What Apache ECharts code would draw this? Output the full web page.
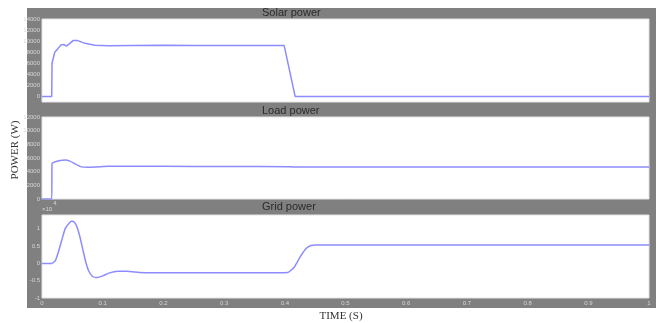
<!DOCTYPE html>
<html>
<head>
<meta charset="utf-8">
<script src="https://cdn.jsdelivr.net/npm/echarts@6/dist/echarts.min.js"></script>
<style>
  html, body { margin: 0; padding: 0; background: #fff; }
  #chart { width: 659px; height: 323px; }
</style>
</head>
<body>
<div id="chart"></div>
<script>
// time axis ticks (s)
var timeTicks = [0, 0.1, 0.2, 0.3, 0.4, 0.5, 0.6, 0.7, 0.8, 0.9, 1];

// Solar power (W)
var solarT = [0, 0.016, 0.0165, 0.021, 0.026, 0.031, 0.036, 0.040, 0.046, 0.051, 0.059, 0.071, 0.087, 0.109, 0.15, 0.2, 0.25, 0.3, 0.35, 0.399, 0.417, 0.5, 1];
var solarP = [0, 0, 6000, 8000, 8600, 9300, 9400, 9100, 9600, 10100, 10100, 9600, 9250, 9150, 9200, 9250, 9200, 9200, 9200, 9200, 0, 0, 0];

// Load power (W)
var loadT = [0, 0.016, 0.0165, 0.022, 0.03, 0.038, 0.046, 0.055, 0.065, 0.075, 0.09, 0.11, 0.2, 0.3, 0.408, 0.412, 1];
var loadP = [0, 0, 5200, 5450, 5650, 5700, 5550, 5100, 4700, 4650, 4700, 4780, 4780, 4750, 4730, 4680, 4680];

// Grid power (x10^4 W)
var gridT = [0, 0.016, 0.022, 0.027, 0.033, 0.038, 0.045, 0.049, 0.053, 0.057, 0.062, 0.067, 0.072, 0.077, 0.083, 0.09, 0.1, 0.11, 0.125, 0.14, 0.16, 0.18, 0.25, 0.3, 0.35, 0.405, 0.415, 0.425, 0.435, 0.443, 0.45, 0.5, 1];
var gridP = [0, 0, 0.08, 0.33, 0.7, 1.0, 1.17, 1.22, 1.2, 1.08, 0.8, 0.42, 0.05, -0.22, -0.37, -0.41, -0.36, -0.28, -0.23, -0.23, -0.26, -0.27, -0.27, -0.27, -0.27, -0.26, -0.12, 0.18, 0.43, 0.52, 0.53, 0.53, 0.53];

var titles = ["Solar power", "Load power", "Grid power"];

function pairs(t, v) {
  return t.map(function (x, i) { return [x, v[i]]; });
}

var lineColor = "#8c8cff";
var labelColor = "#d6d6d6";
var tinyLabel = { color: labelColor, fontSize: 6, fontFamily: "Liberation Sans", margin: 2 };

var chart = echarts.init(document.getElementById("chart"));

var grids = [
  { left: 42, right: 10, top: 19, height: 83 },
  { left: 42, right: 10, top: 117, height: 82 },
  { left: 42, right: 10, top: 215, height: 83 }
].map(function (g) {
  return Object.assign(g, { show: true, backgroundColor: "#fff", borderColor: "#e4e4e4", borderWidth: 1 });
});

var xAxes = [0, 1, 2].map(function (i) {
  return {
    type: "value", gridIndex: i, min: timeTicks[0], max: timeTicks[timeTicks.length - 1], interval: 0.1,
    axisLine: { show: false }, axisTick: { show: false }, splitLine: { show: false },
    axisLabel: Object.assign({ show: i === 2, formatter: function (v) { return String(Math.round(v * 10) / 10); } }, tinyLabel)
  };
});

var yAxes = [
  {
    type: "value", gridIndex: 0, min: -1000, max: 14000, interval: 1000,
    axisLabel: Object.assign({ formatter: function (v) { return v >= 0 && v % 2000 === 0 ? String(v) : ""; } }, tinyLabel)
  },
  {
    type: "value", gridIndex: 1, min: 0, max: 12000, interval: 2000,
    axisLabel: Object.assign({ formatter: function (v) { return String(v); } }, tinyLabel)
  },
  {
    type: "value", gridIndex: 2, min: -1, max: 1.4, interval: 0.1,
    name: "{a|\u00d710}{b|4}", nameLocation: "end", nameGap: 3,
    nameTextStyle: {
      align: "left", padding: [0, 0, 0, 0],
      rich: {
        a: { color: labelColor, fontSize: 6, fontFamily: "Liberation Sans", verticalAlign: "bottom" },
        b: { color: labelColor, fontSize: 6, fontFamily: "Liberation Sans", verticalAlign: "top", padding: [0, 0, 6, 1] }
      }
    },
    axisLabel: Object.assign({
      formatter: function (v) {
        var k = v / 0.5;
        if (Math.abs(k - Math.round(k)) > 1e-6 || v > 1.01) return "";
        return String(Math.round(v * 10) / 10);
      }
    }, tinyLabel)
  }
].map(function (a) {
  return Object.assign(a, {
    axisLine: { show: false }, axisTick: { show: false }, splitLine: { show: false }
  });
});

var titleTops = [7, 105, 201];

chart.setOption({
  animation: false,
  backgroundColor: "#fff",
  title: titles.map(function (t, i) {
    return {
      text: t, left: 262, top: titleTops[i], padding: 0,
      textStyle: { color: "#2a2a2a", fontSize: 11, fontWeight: "normal", fontFamily: "Liberation Sans" }
    };
  }),
  graphic: [
    { type: "rect", z: -100, silent: true, shape: { x: 27, y: 8, width: 629, height: 300 }, style: { fill: "#808080" } },
    {
      type: "text", silent: true, x: 15, y: 150, rotation: Math.PI / 2,
      style: { text: "POWER (W)", fill: "#333", font: "11px 'Liberation Serif'", align: "center", verticalAlign: "middle" }
    },
    {
      type: "text", silent: true, x: 341, y: 316,
      style: { text: "TIME (S)", fill: "#333", font: "11px 'Liberation Serif'", align: "center", verticalAlign: "middle" }
    }
  ],
  grid: grids,
  xAxis: xAxes,
  yAxis: yAxes,
  series: [
    { type: "line", xAxisIndex: 0, yAxisIndex: 0, data: pairs(solarT, solarP), showSymbol: false, lineStyle: { color: lineColor, width: 1.5 } },
    { type: "line", xAxisIndex: 1, yAxisIndex: 1, data: pairs(loadT, loadP), showSymbol: false, smooth: 0.2, lineStyle: { color: lineColor, width: 1.5 } },
    { type: "line", xAxisIndex: 2, yAxisIndex: 2, data: pairs(gridT, gridP), showSymbol: false, smooth: 0.15, lineStyle: { color: lineColor, width: 1.5 } }
  ]
});
</script>
</body>
</html>
